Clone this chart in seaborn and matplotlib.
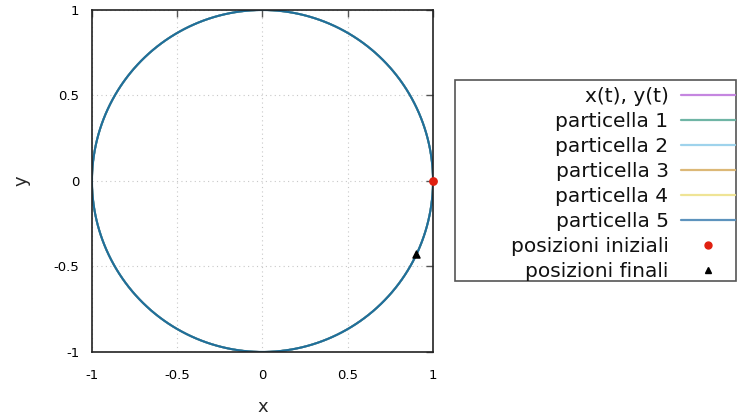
import numpy as np
import pandas as pd
import matplotlib
matplotlib.use("Agg")
import matplotlib.pyplot as plt
import matplotlib.patches as mpatches
import seaborn as sns

# dati: tutte le traiettorie stanno sul cerchio unitario
raggio = 1.0
serie = ["x(t), y(t)", "particella 1", "particella 2", "particella 3",
         "particella 4", "particella 5"]
colori = ["#c586e0", "#6fb5a5", "#9fd3ec", "#dcb877", "#efe496", "#5d93bd"]
x_iniziali = [1.0]
y_iniziali = [0.0]
x_finali = [0.90]
y_finali = [-0.43]
ticks = [-1, -0.5, 0, 0.5, 1]
tick_lab = ["-1", "-0.5", "0", "0.5", "1"]

angoli = np.linspace(0, 2 * np.pi, 400)
righe = []
for s in serie:
    righe.append(pd.DataFrame({"x": raggio * np.cos(angoli),
                               "y": raggio * np.sin(angoli), "serie": s}))
df = pd.concat(righe, ignore_index=True)

sns.set_style("white")
fig = plt.figure(figsize=(7.37, 4.17), dpi=100)
ax = fig.add_axes([0.1248, 0.156, 0.4627, 0.820])

sns.lineplot(data=df, x="x", y="y", hue="serie", palette=colori, sort=False,
             estimator=None, linewidth=1.3, ax=ax, legend=False)
# la curva visibile e' quella sovrapposta (blu scuro)
sns.lineplot(x=raggio * np.cos(angoli), y=raggio * np.sin(angoli), sort=False,
             estimator=None, color="#1f6f9a", linewidth=1.5, ax=ax, legend=False)
ax.scatter(x_iniziali, y_iniziali, color="#e02010", s=28, zorder=5, clip_on=False)
ax.scatter(x_finali, y_finali, color="black", marker="^", s=26, zorder=5, clip_on=False)

ax.set_xlim(-1, 1)
ax.set_ylim(-1, 1)
ax.set_xticks(ticks)
ax.set_xticklabels(tick_lab)
ax.set_yticks(ticks)
ax.set_yticklabels(tick_lab)
ax.tick_params(direction="in", length=5, width=1, labelsize=9.5, top=True, right=True,
               colors="#555555", labelcolor="black")
ax.tick_params(axis="x", pad=12)
ax.tick_params(axis="y", pad=9)
ax.grid(True, linestyle=(0, (1, 3)), color="#c8c8c8", linewidth=0.8)
for sp in ax.spines.values():
    sp.set_color("#222222")
    sp.set_linewidth(1.2)
ax.set_xlabel("x", fontsize=13, labelpad=12)
ax.set_ylabel("y", fontsize=13, labelpad=17)

handles = [plt.Line2D([], [], color=c, lw=1.6) for c in colori]
handles.append(plt.Line2D([], [], color="#e02010", marker="o", ls="", ms=5))
handles.append(plt.Line2D([], [], color="black", marker="^", ls="", ms=5))
etichette = serie + ["posizioni iniziali", "posizioni finali"]
leg = fig.legend(handles, etichette, loc="upper right", bbox_to_anchor=(1.0, 0.797),
                 markerfirst=False, fontsize=14.5, handlelength=2.7, handletextpad=0.6,
                 labelspacing=0.3, borderpad=0.1, borderaxespad=0,
                 frameon=False, labelcolor="#111111")
for t in leg.get_texts():
    t.set_ha("right")
leg._legend_box.align = "right"

# riquadro della legenda (piu' largo del testo, come nell'originale)
fig.patches.append(mpatches.Rectangle((455 / 737, 1 - 281 / 417), 281 / 737, 201 / 417,
                                      transform=fig.transFigure, fill=False,
                                      edgecolor="#555555", linewidth=1.2))

fig.savefig("out.png", dpi=100)
